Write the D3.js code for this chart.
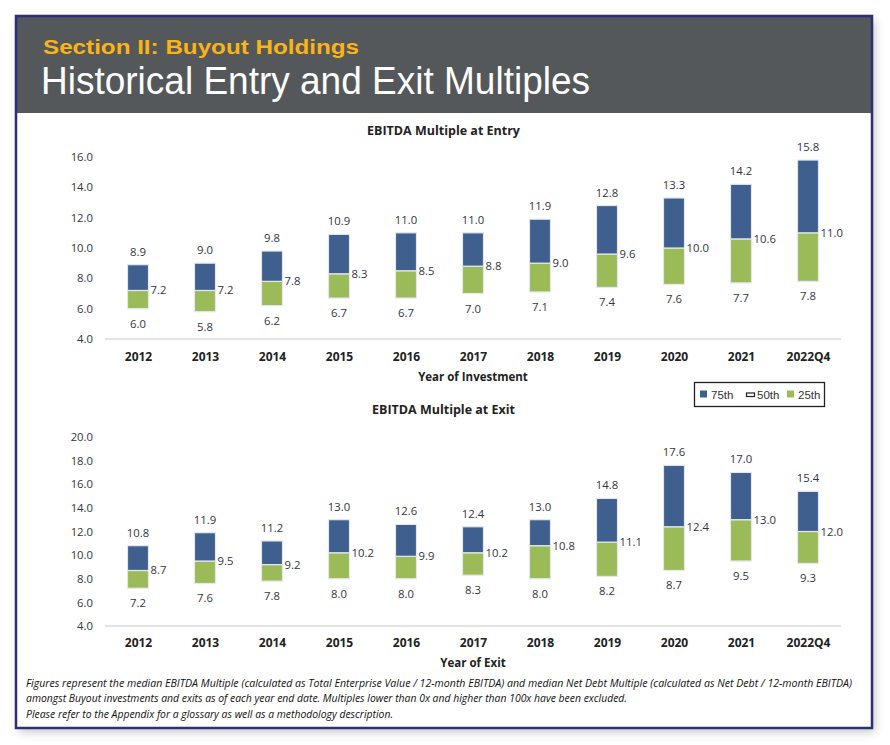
<!DOCTYPE html>
<html><head><meta charset="utf-8">
<script src="https://cdn.jsdelivr.net/npm/d3@7"></script>
<style>
html,body{margin:0;padding:0;background:#fff;}
svg{display:block;}
</style></head>
<body>
<svg id="c" width="890" height="745"></svg>
<script>
const categories = ["2012","2013","2014","2015","2016","2017","2018","2019","2020","2021","2022Q4"];
const entry75 = [8.9,9.0,9.8,10.9,11.0,11.0,11.9,12.8,13.3,14.2,15.8];
const entry50 = [7.2,7.2,7.8,8.3,8.5,8.8,9.0,9.6,10.0,10.6,11.0];
const entry25 = [6.0,5.8,6.2,6.7,6.7,7.0,7.1,7.4,7.6,7.7,7.8];
const exit75 = [10.8,11.9,11.2,13.0,12.6,12.4,13.0,14.8,17.6,17.0,15.4];
const exit50 = [8.7,9.5,9.2,10.2,9.9,10.2,10.8,11.1,12.4,13.0,12.0];
const exit25 = [7.2,7.6,7.8,8.0,8.0,8.3,8.0,8.2,8.7,9.5,9.3];
const entryTicks = [4,6,8,10,12,14,16];
const exitTicks = [4,6,8,10,12,14,16,18,20];
const legendItems = ["75th","50th","25th"];
const footnotes = [
 "Figures represent the median EBITDA Multiple (calculated as Total Enterprise Value / 12-month EBITDA) and median Net Debt Multiple (calculated as Net Debt / 12-month EBITDA)",
 "amongst Buyout investments and exits as of each year end date. Multiples lower than 0x and higher than 100x have been excluded.",
 "Please refer to the Appendix for a glossary as well as a methodology description."
];

const BLUE = "#3f5f8f", GREEN = "#9bbb59", TXT = "#34343f";
const FONT = "'Open Sans','Noto Sans',sans-serif";
const svg = d3.select("#c");

// shadow filter
const defs = svg.append("defs");
const f = defs.append("filter").attr("id","sh").attr("x","-5%").attr("y","-5%").attr("width","110%").attr("height","110%");
f.append("feDropShadow").attr("dx",3).attr("dy",4).attr("stdDeviation",5).attr("flood-color","#000").attr("flood-opacity",0.22);

// outer box
svg.append("rect").attr("x",16).attr("y",16).attr("width",856).attr("height",712)
  .attr("fill","#fff").attr("filter","url(#sh)");
svg.append("rect").attr("x",16).attr("y",16).attr("width",856).attr("height",97).attr("fill","#54585a");
svg.append("rect").attr("x",16).attr("y",16).attr("width",856).attr("height",712)
  .attr("fill","none").attr("stroke","#2e2f78").attr("stroke-width",2.5);

svg.append("text").attr("x",43).attr("y",54).text("Section II: Buyout Holdings")
  .attr("font-family","'Liberation Sans',Arial,sans-serif").attr("font-weight","bold")
  .attr("font-size",20.5).attr("fill","#fbb416").attr("textLength",316).attr("lengthAdjust","spacingAndGlyphs");
svg.append("text").attr("x",41).attr("y",93.5).text("Historical Entry and Exit Multiples")
  .attr("font-family","'Liberation Sans',Arial,sans-serif")
  .attr("font-size",38).attr("fill","#fff").attr("textLength",549).attr("lengthAdjust","spacingAndGlyphs");

const x = d3.scalePoint().domain(categories).range([104.5,841.5]).padding(0.5);
const BW = 21;

function drawChart(cfg){
  const y = d3.scaleLinear().domain([4, cfg.max]).range([cfg.y0, cfg.y1]);
  const g = svg.append("g");
  g.append("text").attr("x",443.5).attr("y",cfg.titleY).attr("text-anchor","middle")
    .attr("font-family",FONT).attr("font-weight","bold").attr("font-size",12.5).attr("fill","#222")
    .text(cfg.title);
  // y axis
  const ya = g.append("g").attr("transform","translate(93,0)")
    .call(d3.axisLeft(y).tickValues(cfg.ticks).tickFormat(d3.format(".1f")).tickSize(0).tickPadding(0));
  ya.select(".domain").remove();
  ya.selectAll("text").attr("font-family",FONT).attr("font-size",11.3).attr("fill",TXT);
  // baseline
  g.append("line").attr("x1",105).attr("x2",841).attr("y1",y(4)).attr("y2",y(4))
    .attr("stroke","#e3e3e3").attr("stroke-width",2);
  // x axis
  const xa = g.append("g").attr("transform",`translate(0,${y(4)})`)
    .call(d3.axisBottom(x).tickSize(0).tickPadding(cfg.xPad));
  xa.select(".domain").remove();
  xa.selectAll("text").attr("font-family",FONT).attr("font-weight","bold").attr("font-size",12).attr("fill","#222");
  g.append("text").attr("x",473).attr("y",cfg.axisTitleY).attr("text-anchor","middle")
    .attr("font-family",FONT).attr("font-weight","bold").attr("font-size",11.5).attr("fill","#222")
    .text(cfg.axisTitle);

  const data = categories.map((c,i)=>({c, hi:cfg.v75[i], md:cfg.v50[i], lo:cfg.v25[i]}));
  const bars = g.selectAll(".b").data(data).enter().append("g");
  bars.append("rect").attr("x",d=>x(d.c)-BW/2).attr("width",BW)
    .attr("y",d=>y(d.md)).attr("height",d=>y(d.lo)-y(d.md))
    .attr("fill",GREEN).attr("stroke","#e4e8ee").attr("stroke-width",1.2);
  bars.append("rect").attr("x",d=>x(d.c)-BW/2).attr("width",BW)
    .attr("y",d=>y(d.hi)).attr("height",d=>y(d.md)-y(d.hi))
    .attr("fill",BLUE).attr("stroke","#e4e8ee").attr("stroke-width",1.2);
  const lbl = (sel)=>sel.attr("font-family",FONT).attr("font-size",11.3).attr("fill",TXT);
  bars.append("text").attr("x",d=>x(d.c)).attr("y",d=>y(d.hi)-9).attr("text-anchor","middle")
    .text(d=>d.hi.toFixed(1)).call(lbl);
  bars.append("text").attr("x",d=>x(d.c)+BW/2+2).attr("y",d=>y(d.md)+4)
    .text(d=>d.md.toFixed(1)).call(lbl);
  bars.append("text").attr("x",d=>x(d.c)).attr("y",d=>y(d.lo)+19).attr("text-anchor","middle")
    .text(d=>d.lo.toFixed(1)).call(lbl);
}

drawChart({title:"EBITDA Multiple at Entry", titleY:135, max:16, y0:339, y1:157, ticks:entryTicks,
  v75:entry75, v50:entry50, v25:entry25, xPad:13, axisTitle:"Year of Investment", axisTitleY:381});
drawChart({title:"EBITDA Multiple at Exit", titleY:414, max:20, y0:626, y1:437, ticks:exitTicks,
  v75:exit75, v50:exit50, v25:exit25, xPad:12, axisTitle:"Year of Exit", axisTitleY:667});

// legend
const lg = svg.append("g");
lg.append("rect").attr("x",694.5).attr("y",382.5).attr("width",130).attr("height",24)
  .attr("fill","#fff").attr("stroke","#222").attr("stroke-width",1.3);
const lx = [700, 746, 787];
const sw = [BLUE, "#fff", GREEN];
legendItems.forEach((t,i)=>{
  if(i===1){
    lg.append("rect").attr("x",lx[i]+0.5).attr("y",393).attr("width",8).attr("height",3.5)
      .attr("fill","#fff").attr("stroke","#222").attr("stroke-width",1.2);
  } else {
    lg.append("rect").attr("x",lx[i]).attr("y",390.5).attr("width",7).attr("height",7).attr("fill",sw[i]);
  }
  lg.append("text").attr("x",lx[i]+11).attr("y",398.5).text(t)
    .attr("font-family","'Liberation Sans',Arial,sans-serif").attr("font-size",11.5).attr("fill","#333");
});

// footnotes
const fy = [687, 702, 717.5];
const fl = [826, 601, 367];
footnotes.forEach((t,i)=>{
  svg.append("text").attr("x",26).attr("y",fy[i]).text(t)
    .attr("font-family",FONT).attr("font-style","italic").attr("font-size",10.5).attr("fill","#111")
    .attr("textLength",fl[i]).attr("lengthAdjust","spacingAndGlyphs");
});
</script>
</body></html>
